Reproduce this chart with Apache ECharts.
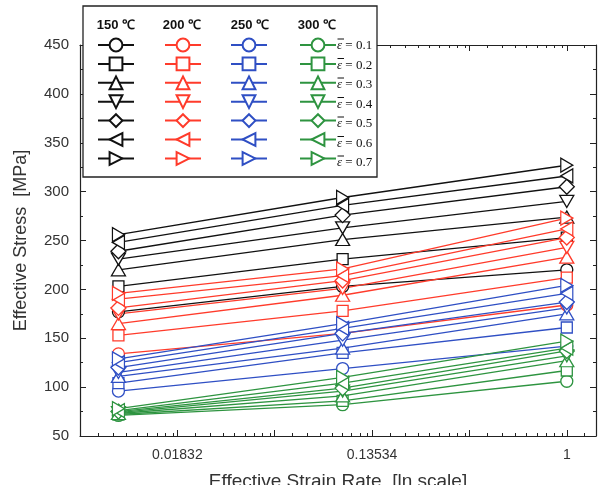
<!DOCTYPE html>
<html>
<head>
<meta charset="utf-8">
<script src="https://cdn.jsdelivr.net/npm/echarts@6/dist/echarts.min.js"></script>
<style>
  html, body { margin: 0; padding: 0; background: #fff; }
  #chart { width: 612px; height: 485px; }
</style>
</head>
<body>
<div id="chart"></div>
<script>
const temps = ["150", "200", "250", "300"];
const tempColors = ["#111111", "#ff3b2b", "#2f4fc4", "#2e9440"];
const strains = ["0.1", "0.2", "0.3", "0.4", "0.5", "0.6", "0.7"];
const strainRates = [0.01, 0.1, 1];
const xTickLabels = ["0.01832", "0.13534", "1"];

// effective stress [MPa] at each strain rate, one row per strain 0.1 .. 0.7
const stress150 = [
  [177, 203, 220],
  [203, 231, 253],
  [220, 251, 274],
  [231, 263, 290],
  [239, 276, 305],
  [248, 286, 316],
  [256, 294, 327],
];
const stress200 = [
  [134, 155, 184],
  [153, 178, 212],
  [165, 194, 233],
  [175, 201, 243],
  [181, 209, 253],
  [190, 214, 262],
  [196, 221, 273],
];
const stress250 = [
  [96, 119, 142],
  [104, 135, 161],
  [111, 140, 175],
  [115, 148, 181],
  [120, 155, 187],
  [125, 160, 196],
  [129, 165, 204],
];
const stress300 = [
  [71, 82, 106],
  [72, 86, 117],
  [73, 91, 127],
  [74, 96, 132],
  [75, 99, 137],
  [76, 104, 140],
  [78, 110, 147],
];
const stressByTemp = [stress150, stress200, stress250, stress300];

// marker per strain: circle, square, up, down, diamond, left, right
const markers = [
  { symbol: "circle", rotate: 0, size: 12 },
  { symbol: "rect", rotate: 0, size: 11 },
  { symbol: "triangle", rotate: 0, size: [14, 12] },
  { symbol: "triangle", rotate: 180, size: [14, 12] },
  { symbol: "diamond", rotate: 0, size: [15, 15] },
  { symbol: "triangle", rotate: 90, size: [14, 12] },
  { symbol: "triangle", rotate: -90, size: [14, 12] },
];

const axisColor = "#222";
const labelColor = "#333";
const X_MIN = -5, X_MAX = 0.3;

// minor ticks sit at ln(m * e^k), m = 1.2 .. 2.6
const minorSteps = [1.2, 1.4, 1.6, 1.8, 2.0, 2.2, 2.4, 2.6];
const minorX = [];
for (let k = X_MIN; k <= 0; k++) {
  minorSteps.forEach((m) => {
    const v = k + Math.log(m);
    if (v < X_MAX) minorX.push(v);
  });
}

function xLabel(v) {
  const i = xTickLabels.findIndex((s) => Math.abs(Math.log(parseFloat(s)) - v) < 1e-3);
  return i >= 0 ? xTickLabels[i] : "";
}

const series = [];
temps.forEach((t, ti) => {
  strains.forEach((s, si) => {
    const m = markers[si];
    const c = tempColors[ti];
    series.push({
      name: t + "-" + s,
      type: "line",
      data: strainRates.map((r, i) => [Math.log(r), stressByTemp[ti][si][i]]),
      symbol: m.symbol,
      symbolSize: m.size,
      symbolRotate: m.rotate,
      showAllSymbol: true,
      lineStyle: { color: c, width: 1.3 },
      itemStyle: { color: "#fff", borderColor: c, borderWidth: 1.3 },
      emphasis: { disabled: true },
      silent: true,
    });
  });
});

const legendLeft = [97, 164, 230, 299];
const legends = temps.map((t, ti) => ({
  data: strains.map((s) => t + "-" + s),
  orient: "vertical",
  left: legendLeft[ti],
  top: 37,
  padding: 0,
  itemWidth: 36,
  itemHeight: 16,
  itemGap: 3.5,
  selectedMode: false,
  formatter: () => "",
  textStyle: { fontSize: 8 },
}));

const headerX = [116, 182, 250, 317];
const graphics = [
  {
    type: "rect",
    z: 3,
    shape: { x: 83, y: 6, width: 294, height: 171 },
    style: { fill: "#fff", stroke: axisColor, lineWidth: 1.3 },
  },
];
temps.forEach((t, ti) => {
  graphics.push({
    type: "text",
    z: 4,
    x: headerX[ti],
    y: 25,
    style: {
      text: t + " ℃",
      fill: "#111",
      font: "bold 13px 'Liberation Sans'",
      align: "center",
      verticalAlign: "middle",
    },
  });
});
strains.forEach((s, si) => {
  const y = 45 + si * 19.5;
  graphics.push({
    type: "text",
    z: 4,
    x: 337,
    y: y + 1,
    style: {
      text: "{e|ε} = " + s,
      fill: "#111",
      font: "13px 'Liberation Serif'",
      verticalAlign: "middle",
      rich: { e: { fontStyle: "italic", fontSize: 13, fontFamily: "Liberation Serif" } },
    },
  });
  // bar over epsilon
  graphics.push({
    type: "line",
    z: 4,
    shape: { x1: 337.5, y1: y - 6, x2: 344, y2: y - 6 },
    style: { stroke: "#111", lineWidth: 1 },
  });
});

const tickBase = { inside: true, length: 6, lineStyle: { color: axisColor, width: 1 } };
const minorTickBase = { show: true, splitNumber: 2, length: 3, lineStyle: { color: axisColor, width: 1 } };
const lineBase = { show: true, onZero: false, lineStyle: { color: axisColor, width: 1.2 } };

const option = {
  animation: false,
  backgroundColor: "#fff",
  grid: { left: 80, right: 16, top: 45, bottom: 49, containLabel: false, outerBoundsMode: "none" },
  legend: legends,
  graphic: graphics,
  xAxis: [
    {
      type: "value",
      position: "bottom",
      min: X_MIN,
      max: X_MAX,
      interval: 1,
      axisLine: lineBase,
      axisTick: tickBase,
      axisLabel: {
        formatter: xLabel,
        color: labelColor,
        fontSize: 14,
        fontFamily: "Liberation Sans",
        margin: 12,
      },
      splitLine: { show: false },
      name: "Effective Strain Rate  [ln scale]",
      nameLocation: "middle",
      nameGap: 36,
      nameTextStyle: { color: labelColor, fontSize: 19, fontFamily: "Liberation Sans" },
    },
    {
      type: "value",
      position: "bottom",
      min: X_MIN,
      max: X_MAX,
      axisLine: { show: false, onZero: false },
      axisLabel: { show: false },
      splitLine: { show: false },
      axisTick: { inside: true, length: 3, customValues: minorX, lineStyle: { color: axisColor } },
    },
    {
      type: "value",
      position: "top",
      min: X_MIN,
      max: X_MAX,
      interval: 1,
      axisLine: lineBase,
      axisTick: tickBase,
      axisLabel: { show: false },
      splitLine: { show: false },
    },
    {
      type: "value",
      position: "top",
      min: X_MIN,
      max: X_MAX,
      axisLine: { show: false, onZero: false },
      axisLabel: { show: false },
      splitLine: { show: false },
      axisTick: { inside: true, length: 3, customValues: minorX, lineStyle: { color: axisColor } },
    },
  ],
  yAxis: [
    {
      type: "value",
      position: "left",
      min: 50,
      max: 450,
      interval: 50,
      axisLine: lineBase,
      axisTick: tickBase,
      minorTick: minorTickBase,
      axisLabel: { color: labelColor, fontSize: 15, fontFamily: "Liberation Sans", margin: 11 },
      splitLine: { show: false },
      name: "Effective Stress  [MPa]",
      nameLocation: "middle",
      nameGap: 50,
      nameTextStyle: { color: labelColor, fontSize: 18, fontFamily: "Liberation Sans" },
    },
    {
      type: "value",
      position: "right",
      min: 50,
      max: 450,
      interval: 50,
      axisLine: lineBase,
      axisTick: tickBase,
      minorTick: minorTickBase,
      axisLabel: { show: false },
      splitLine: { show: false },
    },
  ],
  series: series,
};

const chart = echarts.init(document.getElementById("chart"));
chart.setOption(option);
</script>
</body>
</html>
